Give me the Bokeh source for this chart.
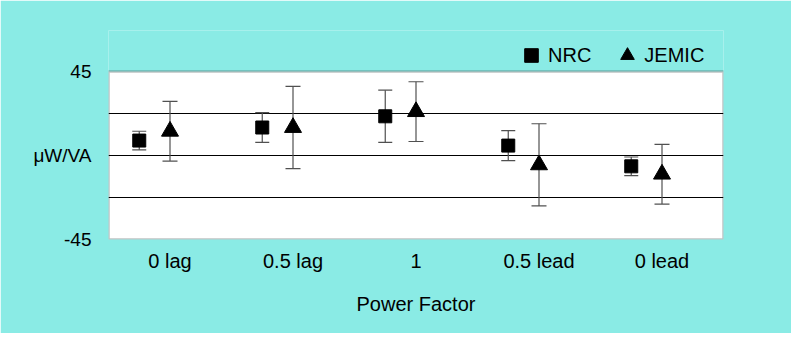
from bokeh.plotting import figure
from bokeh.models import (ColumnDataSource, FactorRange, Range1d, FixedTicker,
                          Whisker, TeeHead, Legend, LegendItem, BoxAnnotation)
from bokeh.transform import dodge
from bokeh.embed import file_html
from bokeh.resources import INLINE

# ---- data ----
categories = ["0 lag", "0.5 lag", "1", "0.5 lead", "0 lead"]
nrc_values = [8, 15, 21, 5.3, -5.8]
nrc_errors = [5, 8, 14, 8, 5]
jemic_values = [13, 15, 23.5, -5, -10]
jemic_errors = [16, 22, 16, 22, 16]
y_ticks = [-45, 0, 45]
y_tick_labels = ["-45", "\u03bcW/VA", "45"]
grid_values = [-22.5, 0, 22.5]
y_min, y_max = -45, 45

src = ColumnDataSource(dict(
    cat=categories,
    nrc=nrc_values,
    nrc_lo=[v - e for v, e in zip(nrc_values, nrc_errors)],
    nrc_hi=[v + e for v, e in zip(nrc_values, nrc_errors)],
    jem=jemic_values,
    jem_lo=[v - e for v, e in zip(jemic_values, jemic_errors)],
    jem_hi=[v + e for v, e in zip(jemic_values, jemic_errors)],
))

FONT = "Liberation Sans"
CYAN = "#8AEBE5"

# plot box is 168 px tall; 41 px of room above it holds the legend
PLOT_PX, LEGEND_PX = 168, 41
view_top = y_max + (y_max - y_min) * LEGEND_PX / PLOT_PX

p = figure(x_range=FactorRange(*categories), y_range=Range1d(y_min, view_top),
           width=791, height=333, output_backend="svg", toolbar_location=None,
           min_border_left=108, min_border_right=68, min_border_top=30,
           min_border_bottom=94,
           background_fill_color=CYAN, border_fill_color=CYAN,
           outline_line_color=None)

# white plot box with dark border
p.add_layout(BoxAnnotation(left=0, right=len(categories), bottom=y_min, top=y_max,
                           fill_color="white", fill_alpha=1,
                           line_color="#2b3b3b", line_width=2.5, level="image"))

# grid
p.xgrid.visible = False
p.ygrid.ticker = FixedTicker(ticks=grid_values)
p.ygrid.grid_line_color = "black"
p.ygrid.grid_line_width = 1

# x axis
xa = p.xaxis[0]
xa.axis_line_color = None
xa.major_tick_line_color = None
xa.minor_tick_line_color = None
xa.major_label_text_font = FONT
xa.major_label_text_font_size = "20px"
xa.major_label_text_color = "black"
xa.major_label_standoff = 4
xa.axis_label = "Power Factor"
xa.axis_label_text_font = FONT
xa.axis_label_text_font_style = "normal"
xa.axis_label_text_font_size = "20px"
xa.axis_label_text_color = "black"
xa.axis_label_standoff = 18

# y axis
ya = p.yaxis[0]
ya.ticker = FixedTicker(ticks=y_ticks)
ya.major_label_overrides = {t: l for t, l in zip(y_ticks, y_tick_labels)}
ya.axis_line_color = None
ya.major_tick_line_color = None
ya.minor_tick_line_color = None
ya.major_label_text_font = FONT
ya.major_label_text_font_size = "19px"
ya.major_label_text_color = "black"
ya.major_label_standoff = 11

# error bars
wcol = "#505050"
p.add_layout(Whisker(source=src, base=dodge("cat", -0.25, range=p.x_range),
                     upper="nrc_hi", lower="nrc_lo", line_color=wcol, line_width=1.2,
                     upper_head=TeeHead(size=14, line_color=wcol, line_width=1.2),
                     lower_head=TeeHead(size=14, line_color=wcol, line_width=1.2)))
p.add_layout(Whisker(source=src, base="cat",
                     upper="jem_hi", lower="jem_lo", line_color=wcol, line_width=1.2,
                     upper_head=TeeHead(size=15, line_color=wcol, line_width=1.2),
                     lower_head=TeeHead(size=15, line_color=wcol, line_width=1.2)))

# markers
r_nrc = p.scatter(x=dodge("cat", -0.25, range=p.x_range), y="nrc", source=src,
                  marker="square", size=13, color="black")
r_jem = p.scatter(x="cat", y="jem", source=src,
                  marker="triangle", size=17, color="black")

legend = Legend(items=[LegendItem(label="NRC", renderers=[r_nrc]),
                       LegendItem(label="JEMIC", renderers=[r_jem])],
                orientation="horizontal", location=(406, 167),
                glyph_width=34, glyph_height=34, label_standoff=-3, spacing=19,
                padding=0, margin=0, border_line_color=None,
                background_fill_alpha=0,
                label_text_font=FONT, label_text_font_size="20px",
                label_text_color="black")
p.add_layout(legend, "center")

open("out.html", "w").write(file_html(p, INLINE))
